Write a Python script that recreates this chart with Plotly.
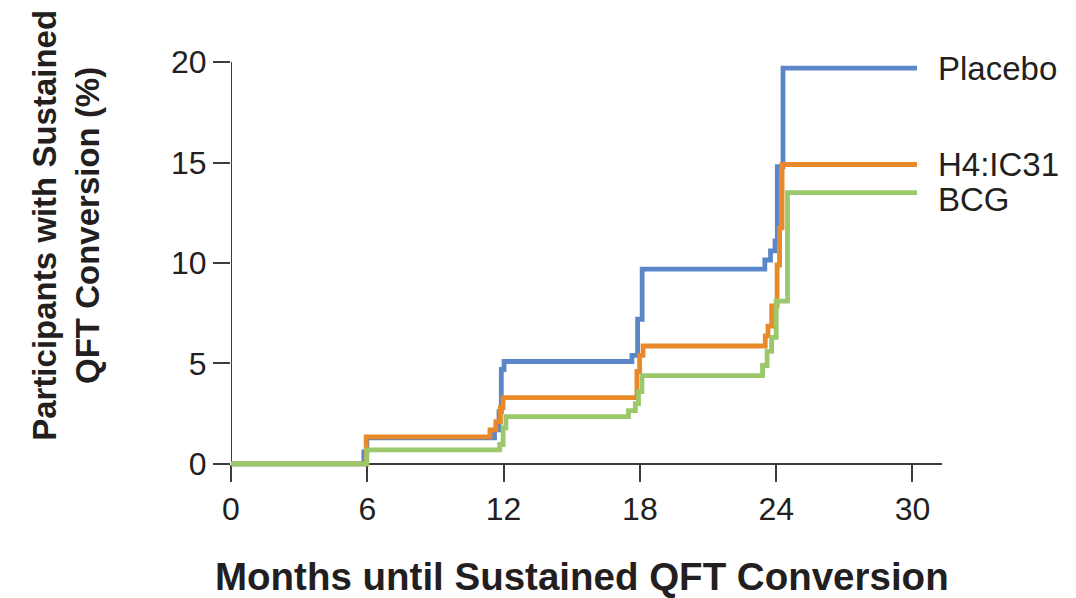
import plotly.graph_objects as go

# Step-function data (months, % with sustained QFT conversion)
placebo_x = [0, 5.85, 5.98, 11.6, 11.8, 11.9, 12.02, 17.65, 17.9, 18.1, 23.5, 23.75, 23.95, 24.05, 24.3, 30.2]
placebo_y = [0, 0.6, 1.3, 1.7, 2.6, 4.7, 5.1, 5.4, 7.2, 9.7, 10.15, 10.6, 11.1, 14.8, 19.7, 19.7]

h4_x = [0, 5.95, 11.4, 11.66, 11.86, 11.98, 17.87, 17.99, 18.14, 23.52, 23.64, 23.8, 24.04, 24.15, 24.26, 30.2]
h4_y = [0, 1.35, 1.7, 2.1, 2.8, 3.3, 4.6, 5.4, 5.87, 6.37, 6.86, 7.86, 9.9, 11.75, 14.9, 14.9]

bcg_x = [0, 5.98, 11.83, 11.98, 12.1, 17.5, 17.8, 17.94, 18.09, 23.4, 23.6, 23.8, 24.0, 24.5, 30.2]
bcg_y = [0, 0.7, 0.97, 1.8, 2.36, 2.65, 3.0, 3.6, 4.4, 4.9, 5.6, 6.3, 8.1, 13.5, 13.5]

series_names = ["Placebo", "H4:IC31", "BCG"]
series_colors = ["#5B87C9", "#E8892A", "#9BC86B"]

x_ticks = [0, 6, 12, 18, 24, 30]
y_ticks = [0, 5, 10, 15, 20]

TEXT = "#231F20"
AXIS = "#3C3C3C"
FONT = "Liberation Sans, Arial, sans-serif"

fig = go.Figure()
for xs, ys, name, col in zip([placebo_x, h4_x, bcg_x], [placebo_y, h4_y, bcg_y], series_names, series_colors):
    fig.add_trace(go.Scatter(x=xs, y=ys, mode="lines", name=name,
                             line=dict(color=col, width=4.8, shape="hv"),
                             showlegend=False, hoverinfo="skip"))

# End labels
label_y = [placebo_y[-1], h4_y[-1], bcg_y[-1]]
label_shift = [0, 0, -7]
for name, yv, sh in zip(series_names, label_y, label_shift):
    fig.add_annotation(x=31.05, y=yv, xref="x", yref="y", text=name, showarrow=False,
                       xanchor="left", yanchor="middle", yshift=sh,
                       font=dict(family=FONT, size=33, color=TEXT))

# y-axis line (from 0 to 20)
fig.add_shape(type="line", xref="x", yref="y", x0=0, x1=0, y0=0, y1=20,
              line=dict(color=AXIS, width=2), layer="below")

# Axis titles
fig.add_annotation(x=0.4933, y=-0.257, xref="paper", yref="paper",
                   text="<b>Months until Sustained QFT Conversion</b>", showarrow=False,
                   xanchor="center", yanchor="middle",
                   font=dict(family=FONT, size=38.5, color=TEXT))
fig.add_annotation(x=-0.232, y=0.5899, xref="paper", yref="paper",
                   text="<b>Participants with Sustained<br>QFT Conversion (%)</b>", showarrow=False,
                   textangle=-90, xanchor="center", yanchor="middle",
                   font=dict(family=FONT, size=33, color=TEXT))

fig.update_layout(
    width=1068, height=590,
    margin=dict(l=223, r=133.5, t=48, b=127.5),
    paper_bgcolor="white", plot_bgcolor="white",
    xaxis=dict(range=[0, 31.3], tickvals=x_ticks, ticktext=[str(v) for v in x_ticks],
               showgrid=False, zeroline=False, showline=True, linecolor=AXIS, linewidth=2,
               ticks="outside", ticklen=17, tickwidth=2, tickcolor=AXIS,
               anchor="free", position=0.3 / 20.6, layer="below traces",
               tickfont=dict(family=FONT, size=32, color=TEXT)),
    yaxis=dict(range=[-0.3, 20.3], tickvals=y_ticks, ticktext=[str(v) for v in y_ticks],
               showgrid=False, zeroline=False, showline=False,
               ticks="outside", ticklen=17, tickwidth=2, tickcolor=AXIS,
               layer="below traces",
               tickfont=dict(family=FONT, size=32, color=TEXT)),
)

fig.write_html("out.html")
